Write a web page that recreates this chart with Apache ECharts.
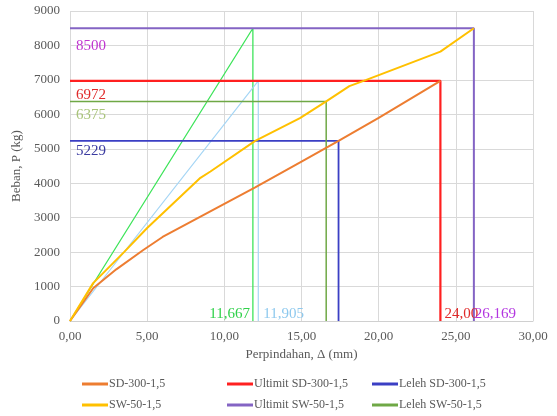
<!DOCTYPE html>
<html><head><meta charset="utf-8">
<script src="https://cdn.jsdelivr.net/npm/echarts@6/dist/echarts.min.js"></script>
<style>html,body{margin:0;padding:0;background:#fff}#c{width:557px;height:416px}</style>
</head><body><div id="c"></div>
<script>
// ---- data ----
const sdX = [0, 1.5, 3, 4.75, 6, 9, 12, 15, 17.4, 20, 24.0];
const sdY = [0, 950, 1500, 2060, 2440, 3160, 3880, 4630, 5229, 5900, 6972];
const swX = [0, 1.5, 3.5, 5, 8.4, 9.1, 12, 14.9, 16.6, 18.1, 19.2, 24, 26.169];
const swY = [0, 1100, 2000, 2700, 4140, 4340, 5230, 5890, 6375, 6820, 7000, 7820, 8500];
const ultSD = {x: 24.0, y: 6972};
const ultSW = {x: 26.169, y: 8500};
const lelehSD = {x: 17.4, y: 5229};
const lelehSW = {x: 16.6, y: 6375};
const stiffSW = {x: 11.85, y: 8500};
const stiffSD = {x: 12.2, y: 6972};
const yLabelTexts = ['8500', '6972', '6375', '5229'];
const xLabelTexts = ['11,667', '11,905', '24,00', '26,169'];
const xTickStep = 5, yTickStep = 1000;
const names = ['SD-300-1,5', 'SW-50-1,5', 'Ultimit SD-300-1,5', 'Ultimit SW-50-1,5', 'Leleh SD-300-1,5', 'Leleh SW-50-1,5'];

const FONT = 'Liberation Serif';
const zip = (xs, ys) => xs.map((x, i) => [x, ys[i]]);
const rect = p => [[0, p.y], [p.x, p.y], [p.x, 0]];
const stiff = p => [[0, 0], [p.x, p.y], [p.x, 0]];

function mp(list) {
  return {
    silent: true, symbol: 'circle', symbolSize: 0, animation: false,
    data: list.map(o => ({
      coord: o.coord, value: o.text,
      label: {show: true, formatter: o.text, position: o.pos, distance: o.dist, offset: o.off,
        color: o.color, fontFamily: FONT, fontSize: 15}
    }))
  };
}

function line(name, data, color, width, extra) {
  return Object.assign({
    name, type: 'line', data, showSymbol: false, symbol: 'none',
    lineStyle: {color, width}, itemStyle: {color}, z: 2, animation: false
  }, extra || {});
}

const series = [
  line('stiffSW', stiff(stiffSW), '#3ee45a', 1.3, {markPoint: mp([
    {coord: [stiffSW.x, 0], text: xLabelTexts[0], pos: 'left', dist: 3, off: [0, -7], color: '#2fd14a'}])}),
  line('stiffSD', stiff(stiffSD), '#a6d6f5', 1.2, {markPoint: mp([
    {coord: [stiffSD.x, 0], text: xLabelTexts[1], pos: 'right', dist: 5, off: [0, -7], color: '#8ec9ee'}])}),
  line(names[4], rect(lelehSD), '#3b3fc4', 1.8, {markPoint: mp([
    {coord: [0, lelehSD.y], text: yLabelTexts[3], pos: 'right', dist: 6, off: [0, 10], color: '#3a3aa0'}])}),
  line(names[5], rect(lelehSW), '#6fa846', 1.5, {markPoint: mp([
    {coord: [0, lelehSW.y], text: yLabelTexts[2], pos: 'right', dist: 6, off: [0, 14], color: '#a9c47a'}])}),
  line(names[2], rect(ultSD), '#ff2020', 2.2, {markPoint: mp([
    {coord: [0, ultSD.y], text: yLabelTexts[1], pos: 'right', dist: 6, off: [0, 14], color: '#e02a2a'},
    {coord: [ultSD.x, 0], text: xLabelTexts[2], pos: 'right', dist: 4, off: [0, -7], color: '#e02a2a'}])}),
  line(names[3], rect(ultSW), '#8464c4', 2, {markPoint: mp([
    {coord: [0, ultSW.y], text: yLabelTexts[0], pos: 'right', dist: 6, off: [0, 18], color: '#c034d0'},
    {coord: [ultSW.x, 0], text: xLabelTexts[3], pos: 'right', dist: 1, off: [0, -7], color: '#b336e0'}])}),
  line(names[0], zip(sdX, sdY), '#ed7d31', 2),
  line(names[1], zip(swX, swY), '#ffc000', 2)
];

const legendBase = {
  orient: 'vertical', icon: 'rect', itemWidth: 26, itemHeight: 3, itemGap: 9,
  top: 378, padding: 0, height: 38,
  textStyle: {color: '#595959', fontFamily: FONT, fontSize: 12, padding: [0, 0, 0, -4]},
  selectedMode: false
};

const option = {
  animation: false,
  grid: {left: 70, right: 24, top: 11, bottom: 95},
  xAxis: {
    type: 'value', min: 0, max: 30, interval: xTickStep,
    name: 'Perpindahan, \u0394 (mm)', nameLocation: 'middle', nameGap: 27,
    nameTextStyle: {color: '#595959', fontFamily: FONT, fontSize: 13},
    axisLine: {show: true, lineStyle: {color: '#d0d0d0'}}, axisTick: {show: false},
    axisLabel: {color: '#595959', fontFamily: FONT, fontSize: 13, margin: 9,
      formatter: v => v.toFixed(2).replace('.', ',')},
    splitLine: {show: true, lineStyle: {color: '#d9d9d9'}}
  },
  yAxis: {
    type: 'value', min: 0, max: 9000, interval: yTickStep,
    name: 'Beban, P (kg)', nameLocation: 'middle', nameGap: 41,
    nameTextStyle: {color: '#595959', fontFamily: FONT, fontSize: 13},
    axisLine: {show: false}, axisTick: {show: false},
    axisLabel: {color: '#595959', fontFamily: FONT, fontSize: 13, margin: 10,
      formatter: v => String(v)},
    splitLine: {show: true, lineStyle: {color: '#d9d9d9'}}
  },
  legend: [
    Object.assign({}, legendBase, {left: 82, data: [names[0], names[1]]}),
    Object.assign({}, legendBase, {left: 227, data: [names[2], names[3]]}),
    Object.assign({}, legendBase, {left: 372, data: [names[4], names[5]]})
  ],
  series
};
const chart = echarts.init(document.getElementById('c'), null, {renderer: 'canvas'});
chart.setOption(option);
</script></body></html>
